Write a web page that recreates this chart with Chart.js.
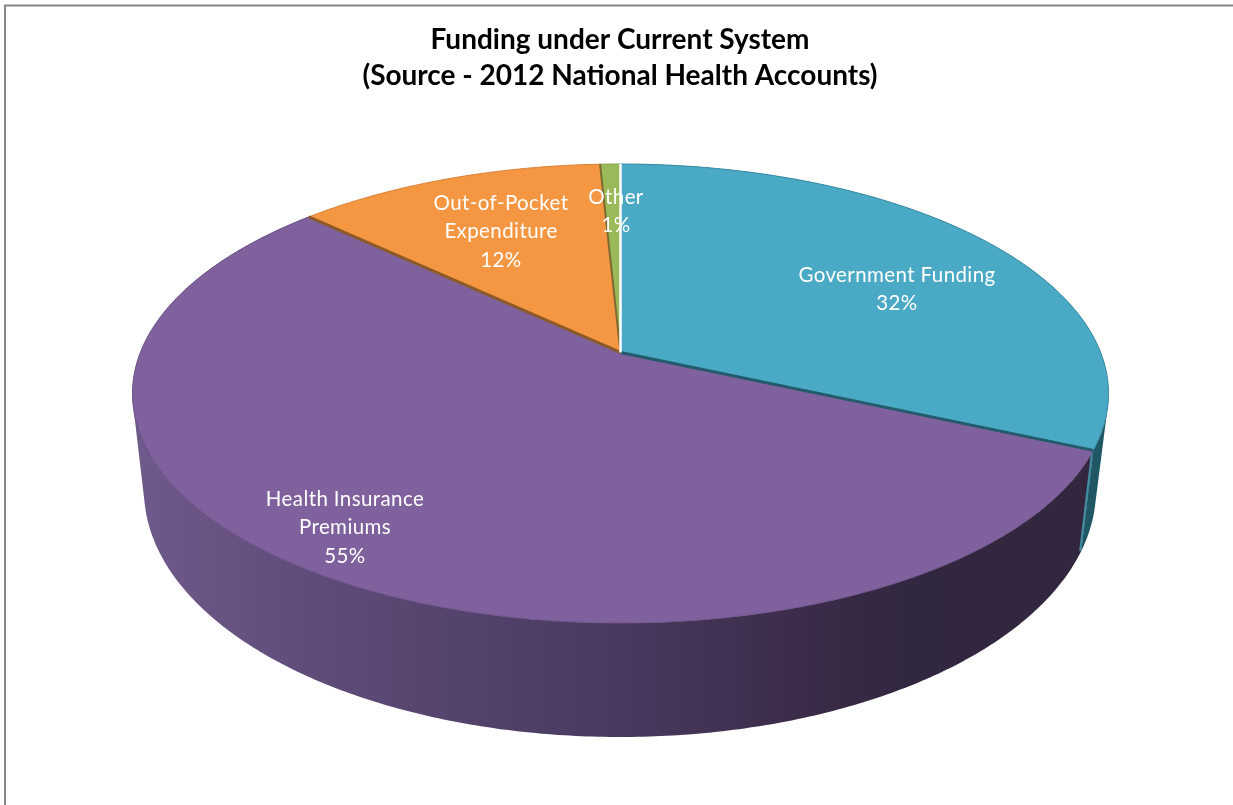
<!DOCTYPE html>
<html>
<head>
<meta charset="utf-8">
<title>Funding under Current System</title>
<script src="https://cdn.jsdelivr.net/npm/chart.js@4"></script>
<style>
    html, body { margin: 0; padding: 0; background: #fff; }
    canvas { display: block; }
</style>
</head>
<body>
<canvas id="myChart" width="1233" height="805"></canvas>
<script>
var titleLines = ['Funding under Current System', '(Source - 2012 National Health Accounts)'];
var categories = ['Government Funding', 'Health Insurance\nPremiums', 'Out-of-Pocket\nExpenditure', 'Other'];
var shares = [31.7, 55.3, 12.2, 0.8];
var sliceColors = ['#4aa9c4', '#7f629d', '#f59642', '#9ab958'];
var rimColors = ['#3a8ca4', '#6d5389', '#d98236', '#86a34a'];

// top face ellipse, bottom rim ellipse, and how far the pie centre sits above the ellipse centre
var topRim = { x: 620.5, y: 393.5, a: 488, b: 229.5 };
var lowRim = { x: 620, y: 490, a: 476, b: 247 };
var tilt = -0.179;

var labelCentres = [
    { x: 897, y: 275 },
    { x: 345, y: 499 },
    { x: 501, y: 203 },
    { x: 616, y: 197 }
];

// circle angle -> point on a rim, keeps straight radial lines straight under the perspective
function project(rim, angle) {
    var u = Math.cos(angle);
    var v = Math.sin(angle);
    var d = 1 + tilt * v;
    return {
        x: rim.x + rim.a * u * Math.sqrt(1 - tilt * tilt) / d,
        y: rim.y + rim.b * (v + tilt) / d
    };
}

function apex() {
    return { x: topRim.x, y: topRim.y + topRim.b * tilt };
}

function angleSteps(start, end) {
    var list = [];
    var n = Math.max(2, Math.ceil((end - start) / 0.01));
    for (var i = 0; i <= n; i++) {
        list.push(start + (end - start) * i / n);
    }
    return list;
}

function wallPath(ctx, start, end) {
    var steps = angleSteps(start, end);
    ctx.beginPath();
    for (var i = 0; i < steps.length - 1; i++) {
        var quad = [
            project(topRim, steps[i]),
            project(topRim, steps[i + 1]),
            project(lowRim, steps[i + 1]),
            project(lowRim, steps[i])
        ];
        // same winding for every quad, or the overlaps at the silhouette cancel out
        var area = 0;
        for (var k = 0; k < 4; k++) {
            var m = quad[k];
            var n = quad[(k + 1) % 4];
            area += m.x * n.y - n.x * m.y;
        }
        if (area < 0) quad.reverse();
        ctx.moveTo(quad[0].x, quad[0].y);
        ctx.lineTo(quad[1].x, quad[1].y);
        ctx.lineTo(quad[2].x, quad[2].y);
        ctx.lineTo(quad[3].x, quad[3].y);
        ctx.closePath();
    }
}

function radial(ctx, angle, color, width) {
    var p = apex();
    var q = project(topRim, angle);
    ctx.beginPath();
    ctx.moveTo(p.x, p.y);
    ctx.lineTo(q.x, q.y);
    ctx.strokeStyle = color;
    ctx.lineWidth = width;
    ctx.stroke();
}

var pie3d = {
    id: 'pie3d',
    beforeDraw: function (chart) {
        var ctx = chart.ctx;
        ctx.save();
        ctx.fillStyle = '#fff';
        ctx.fillRect(0, 0, chart.width, chart.height);
        ctx.strokeStyle = '#868686';
        ctx.lineWidth = 2;
        ctx.beginPath();
        ctx.moveTo(chart.width, 5.5);
        ctx.lineTo(5, 5.5);
        ctx.lineTo(5, chart.height);
        ctx.stroke();
        ctx.restore();
    },
    beforeDatasetsDraw: function (chart) {
        var ctx = chart.ctx;
        var arcs = chart.getDatasetMeta(0).data;
        ctx.save();
        ctx.lineJoin = 'round';

        // walls, back to front
        wallPath(ctx, arcs[0].startAngle, arcs[0].endAngle);
        ctx.fillStyle = '#1f5765';
        ctx.fill();

        var shade = ctx.createLinearGradient(132, 0, 1100, 0);
        shade.addColorStop(0, '#6f5a8c');
        shade.addColorStop(0.2, '#5f4b78');
        shade.addColorStop(0.5, '#483a60');
        shade.addColorStop(0.68, '#3d2c4a');
        shade.addColorStop(0.8, '#322740');
        shade.addColorStop(1, '#33273f');
        wallPath(ctx, arcs[1].startAngle, arcs[1].endAngle);
        ctx.fillStyle = shade;
        ctx.fill();

        // cut face of the teal slice
        var a = project(topRim, arcs[0].endAngle);
        var b = project(lowRim, arcs[0].endAngle);
        ctx.beginPath();
        ctx.moveTo(a.x - 1, a.y);
        ctx.lineTo(b.x - 1, b.y);
        ctx.strokeStyle = '#3f8ea4';
        ctx.lineWidth = 2;
        ctx.stroke();

        // top faces
        for (var i = arcs.length - 1; i >= 0; i--) {
            var steps = angleSteps(arcs[i].startAngle, arcs[i].endAngle);
            var p = apex();
            ctx.beginPath();
            ctx.moveTo(p.x, p.y);
            steps.forEach(function (t) {
                var q = project(topRim, t);
                ctx.lineTo(q.x, q.y);
            });
            ctx.closePath();
            ctx.fillStyle = sliceColors[i];
            ctx.fill();

            ctx.beginPath();
            steps.forEach(function (t, k) {
                var q = project(topRim, t);
                if (k === 0) ctx.moveTo(q.x, q.y);
                else ctx.lineTo(q.x, q.y);
            });
            ctx.strokeStyle = rimColors[i];
            ctx.lineWidth = 1;
            ctx.stroke();
        }
        ctx.restore();

        // slice edges
        ctx.save();
        ctx.lineCap = 'butt';
        radial(ctx, arcs[0].endAngle, '#235b6a', 3);
        radial(ctx, arcs[2].startAngle, '#8c5a28', 3);
        radial(ctx, arcs[3].startAngle, '#7c6a30', 2);
        radial(ctx, arcs[0].startAngle, '#fff', 2.5);
        ctx.restore();

        // white labels sit on top of the pie
        ctx.save();
        ctx.font = '20.5px Lato';
        ctx.letterSpacing = '0.4px';
        ctx.fillStyle = '#fff';
        ctx.textAlign = 'center';
        ctx.textBaseline = 'middle';
        categories.forEach(function (name, i) {
            var lines = name.split('\n');
            lines.push(Math.round(shares[i]) + '%');
            lines.forEach(function (line, k) {
                ctx.fillText(line, labelCentres[i].x, labelCentres[i].y + k * 28.5);
            });
        });
        ctx.restore();
        return false;
    }
};

var myChart = new Chart(document.getElementById('myChart'), {
    type: 'pie',
    data: {
        labels: categories,
        datasets: [{ data: shares, backgroundColor: sliceColors, borderWidth: 0 }]
    },
    options: {
        responsive: false,
        animation: false,
        layout: { padding: { left: 7, top: 17 } },
        plugins: {
            legend: { display: false },
            tooltip: { enabled: false },
            title: {
                display: true,
                text: titleLines,
                color: '#000',
                font: { family: 'Lato', size: 28, weight: 'bold', lineHeight: 1.32 },
                padding: { top: 4, bottom: 0 }
            }
        }
    },
    plugins: [pie3d]
});
</script>
</body>
</html>
